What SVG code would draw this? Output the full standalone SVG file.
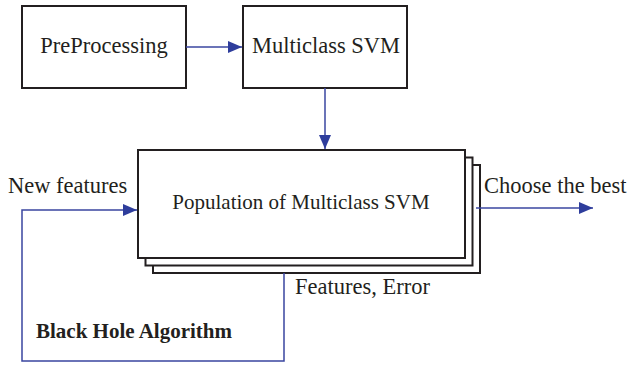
<svg xmlns="http://www.w3.org/2000/svg" width="627" height="366" viewBox="0 0 627 366">
<style>
.box{fill:#fff;stroke:#231f20;stroke-width:2}
.t{font-family:"Liberation Serif",serif;font-size:22.5px;fill:#231f20}
.p{font-size:21px}
.b{font-weight:bold;font-size:21px}
.c{fill:none;stroke:#3a46a0;stroke-width:1.5}
</style>
<defs>
<marker id="ah" markerWidth="14" markerHeight="12" refX="14" refY="6" orient="auto" markerUnits="userSpaceOnUse">
<path d="M0,0 L14,6 L0,12 Z" fill="#2e3d9c"/>
</marker>
</defs>
<rect width="627" height="366" fill="#fff"/>
<g id="preprocessing">
<rect class="box" x="22" y="6" width="164" height="82"/>
<text class="t" x="104" y="53" text-anchor="middle">PreProcessing</text>
</g>
<g id="multiclass-svm">
<rect class="box" x="243" y="6" width="164" height="82"/>
<text class="t" x="326" y="53" text-anchor="middle">Multiclass SVM</text>
</g>
<g id="population">
<rect class="box" x="153" y="165" width="327" height="108"/>
<rect class="box" x="145.5" y="157.5" width="327" height="108"/>
<rect class="box" x="138" y="150" width="327" height="108"/>
<text class="t p" x="301" y="209" text-anchor="middle">Population of Multiclass SVM</text>
</g>
<g id="connectors">
<line class="c" x1="186" y1="47" x2="242" y2="47" marker-end="url(#ah)"/>
<line class="c" x1="325" y1="88" x2="325" y2="149" marker-end="url(#ah)"/>
<line class="c" x1="476" y1="208" x2="593" y2="208" marker-end="url(#ah)"/>
<polyline class="c" points="284,273 284,361 22,361 22,210 137,210" marker-end="url(#ah)"/>
</g>
<g id="labels">
<text class="t" x="8" y="193">New features</text>
<text class="t" x="484" y="193">Choose the best</text>
<text class="t" x="295" y="294">Features, Error</text>
<text class="t b" x="36" y="338">Black Hole Algorithm</text>
</g>
</svg>
